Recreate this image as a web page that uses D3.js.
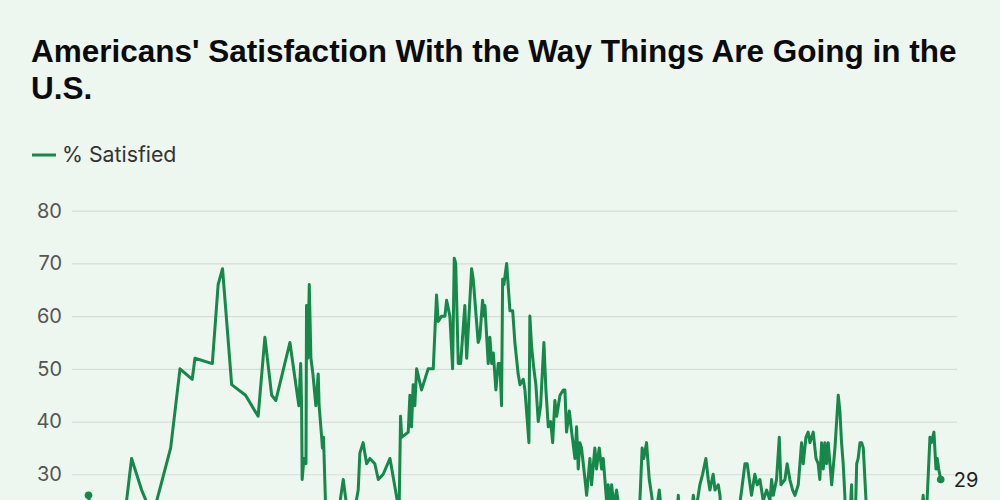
<!DOCTYPE html>
<html><head><meta charset="utf-8">
<script src="https://cdn.jsdelivr.net/npm/d3@7"></script>
<style>
html,body{margin:0;padding:0;background:#edf6ef;overflow:hidden;}
svg{display:block;}
</style></head><body>
<svg id="chart" width="1000" height="500"></svg>
<script>
const titleLines = ["Americans' Satisfaction With the Way Things Are Going in the", "U.S."];
const seriesName = "% Satisfied";
const yTicks = [30, 40, 50, 60, 70, 80];

// survey dates as decimal years
const years = [
1979.09,1979.6,1979.85,1980.9,1981.45,1982.0,1982.6,1983.59,1984.1,1984.77,1984.92,1985.87,
1986.19,1986.43,1986.93,1987.69,1988.38,1988.75,1989.12,1989.35,1990.12,1990.61,1990.71,1990.76,
1990.79,1990.89,1991.0,1991.03,1991.1,1991.18,1991.27,1991.38,1991.54,1991.67,1991.72,1991.86,
1991.9,1991.96,1992.1,1992.45,1992.75,1993.04,1993.3,1993.5,1993.86,1993.95,1994.13,1994.32,
1994.5,1994.77,1994.96,1995.23,1995.6,1996.1,1996.18,1996.24,1996.6,1996.69,1996.78,1996.87,
1996.96,1997.06,1997.33,1997.69,1997.97,1998.15,1998.24,1998.43,1998.61,1998.7,1998.88,1999.03,
1999.12,1999.2,1999.34,1999.47,1999.7,1999.8,2000.07,2000.16,2000.43,2000.52,2000.67,2000.76,
2000.8,2000.98,2001.07,2001.17,2001.26,2001.4,2001.53,2001.62,2001.71,2001.77,2001.84,2001.99,
2002.17,2002.32,2002.44,2002.62,2002.72,2002.9,2002.99,2003.21,2003.26,2003.36,2003.48,2003.59,
2003.72,2003.85,2004.03,2004.14,2004.27,2004.4,2004.51,2004.63,2004.73,2004.91,2005.09,2005.18,
2005.27,2005.42,2005.55,2005.73,2005.82,2005.91,2006.0,2006.09,2006.28,2006.37,2006.55,2006.64,
2006.82,2006.91,2007.06,2007.19,2007.28,2007.37,2007.46,2007.55,2007.64,2007.74,2007.86,2008.01,
2008.2,2008.4,2008.6,2008.8,2009.0,2009.15,2009.25,2009.41,2009.5,2009.65,2009.8,2009.93,
2010.1,2010.35,2010.49,2010.7,2010.9,2011.1,2011.3,2011.39,2011.5,2011.7,2011.9,2012.05,
2012.21,2012.35,2012.57,2012.72,2012.9,2013.03,2013.12,2013.3,2013.4,2013.58,2013.67,2013.8,
2013.95,2014.1,2014.3,2014.5,2014.7,2014.86,2015.04,2015.16,2015.4,2015.58,2015.71,2015.86,
2016.04,2016.23,2016.41,2016.5,2016.59,2016.77,2016.92,2017.01,2017.23,2017.35,2017.5,2017.65,
2017.78,2017.96,2018.14,2018.23,2018.38,2018.5,2018.6,2018.78,2018.93,2019.05,2019.14,2019.24,
2019.33,2019.42,2019.51,2019.6,2019.79,2019.97,2020.15,2020.24,2020.33,2020.42,2020.51,2020.6,
2020.75,2020.88,2021.0,2021.16,2021.24,2021.34,2021.43,2021.52,2021.67,2021.8,2021.9,2022.0,
2022.2,2022.4,2022.55,2022.7,2022.9,2023.1,2023.3,2023.5,2023.7,2023.9,2024.1,2024.3,
2024.5,2024.7,2024.8,2024.95,2025.17,2025.25,2025.32,2025.39,2025.5,2025.57,2025.65,2025.76
];
const satisfied = [
26,12,19,17,33,27,22,35,50,48,52,51,
66,69,47,45,41,56,45,44,55,43,51,43,
29,33,32,62,52,66,52,49,43,49,43,37,
35,37,21,14,22,29,22,20,27,34,36,32,
33,32,29,30,33,23,41,37,38,45,39,47,
43,50,46,50,50,64,59,60,60,63,60,50,
71,70,51,51,62,52,69,67,55,56,63,60,
62,51,56,51,53,46,51,51,43,67,66,70,
61,61,55,49,47,48,46,36,60,54,50,47,
40,43,55,46,39,40,36,44,41,45,46,46,
38,42,38,33,39,31,36,35,29,26,33,28,
35,31,35,31,33,29,25,28,24,28,24,27,
22,15,14,7,13,20,22,35,33,36,29,26,
21,27,22,21,20,19,22,26,20,13,12,20,
26,23,28,30,33,29,27,30,27,28,26,18,
20,23,24,20,23,27,32,32,26,30,28,29,
25,27,25,29,26,29,37,28,29,32,29,27,
26,28,36,32,37,38,36,38,33,32,29,36,
31,36,32,36,28,35,45,42,36,32,26,14,
20,28,11,32,33,36,36,35,25,20,21,19,
20,16,13,17,20,22,18,20,18,21,20,22,
18,22,26,20,37,36,37,38,31,33,31,29
];

const data = years.map((t, i) => ({ t, v: satisfied[i] }));

const svg = d3.select("#chart");
const green = "#15884a";

const x = d3.scaleLinear().domain([years[0], years[years.length - 1]]).range([88.5, 940.7]);
const y = d3.scaleLinear().domain([0, 80]).range([632.4, 210.7]);

// title
const title = svg.append("text")
  .attr("font-family", "'Liberation Sans', Arial, sans-serif")
  .attr("font-weight", 700).attr("font-size", 31.5).attr("fill", "#0b0b0b");
titleLines.forEach((line, i) => {
  title.append("tspan").attr("x", 31).attr("y", 61.7 + i * 37.3).text(line);
});

// legend
const legend = svg.append("g");
legend.append("line").attr("x1", 32).attr("x2", 56).attr("y1", 155).attr("y2", 155)
  .attr("stroke", green).attr("stroke-width", 3);
legend.append("text").attr("x", 62).attr("y", 155).attr("dy", "0.35em")
  .attr("font-family", "Inter, sans-serif").attr("font-size", 21.3).attr("fill", "#333")
  .text(seriesName);

// y axis with gridlines
const yAxis = svg.append("g").attr("transform", "translate(72,0)")
  .call(d3.axisLeft(y).tickValues(yTicks).tickSize(-(957 - 72)).tickPadding(10).tickFormat(d3.format("d")));
yAxis.select(".domain").remove();
yAxis.selectAll(".tick line").attr("stroke", "#d6ddd8").attr("stroke-width", 1.2);
yAxis.selectAll(".tick text").attr("font-family", "Inter, sans-serif").attr("font-size", 20)
  .attr("fill", "#555");

// line
const line = d3.line().x(d => x(d.t)).y(d => y(d.v));
svg.append("path").datum(data).attr("d", line)
  .attr("fill", "none").attr("stroke", green).attr("stroke-width", 3)
  .attr("stroke-linejoin", "round").attr("stroke-linecap", "round");

// end dots
const ends = [data[0], data[data.length - 1]];
svg.selectAll(".enddot").data(ends).enter().append("circle")
  .attr("cx", d => x(d.t)).attr("cy", d => y(d.v)).attr("r", 3.8).attr("fill", green);

// last value label
const last = data[data.length - 1];
svg.append("text").attr("x", x(last.t) + 13).attr("y", y(last.v)).attr("dy", "0.35em")
  .attr("font-family", "Inter, sans-serif").attr("font-size", 20).attr("fill", "#222")
  .text(last.v);
</script>
</body></html>
